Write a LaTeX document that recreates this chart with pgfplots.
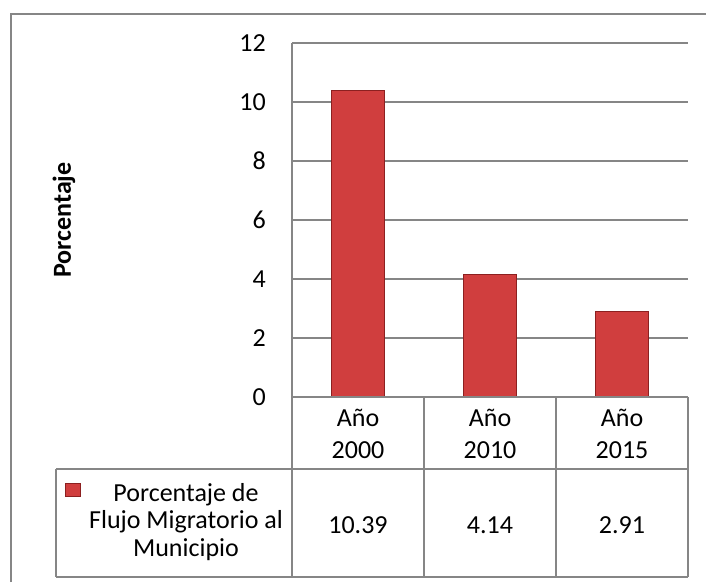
\documentclass[border=0pt]{standalone}
\usepackage{pgfplots}
\pgfplotsset{compat=1.18}
\usepackage{fontspec}
\setmainfont{Carlito}
\definecolor{gridgray}{RGB}{134,134,134}
\definecolor{barmid}{RGB}{208,62,62}
\definecolor{barline}{RGB}{140,32,32}
\begin{document}
\begin{tikzpicture}[x=1pt,y=1pt,font=\fontsize{26}{31}\selectfont]
\path[use as bounding box] (0,0) rectangle (706,-582);
\draw[gridgray, line width=1.5pt] (11,-582) -- (11,-14) -- (706,-14);
\begin{axis}[
  at={(292pt,-397pt)}, anchor=south west,
  scale only axis, width=396pt, height=354pt,
  xmin=-0.5, xmax=2.5, ymin=0, ymax=12,
  ytick={0,2,...,12}, xtick=\empty,
  axis x line=none, axis y line*=left,
  axis line style={gridgray, line width=1.2pt, -},
  ymajorgrids, grid style={gridgray, line width=1.2pt},
  major tick length=0pt,
  tick label style={font=\fontsize{26}{31}\selectfont},
  /pgf/number format/assume math mode=true,
  yticklabel style={anchor=east, inner sep=0pt, xshift=-26pt},
  clip=false,
]
\addplot[ybar, bar width=53pt, draw=barline, line width=1pt, fill=barmid]
  coordinates {(0,10.39) (1,4.14) (2,2.91)};
\end{axis}
% data table
\begin{scope}[gridgray, line width=1.2pt]
\draw (292,-397) -- (688,-397);
\draw (56,-469) -- (688,-469);
\draw (56,-577) -- (688,-577);
\draw (292,-397) -- (292,-577);
\draw (424,-397) -- (424,-577);
\draw (556,-397) -- (556,-577);
\draw (688,-397) -- (688,-577);
\draw (56,-469) -- (56,-577);
\end{scope}
\node[align=center, font=\fontsize{26}{32}\selectfont] at (358,-434) {Año\\2000};
\node[align=center, font=\fontsize{26}{32}\selectfont] at (490,-434) {Año\\2010};
\node[align=center, font=\fontsize{26}{32}\selectfont] at (622,-434) {Año\\2015};
\node at (358,-525) {10.39};
\node at (490,-525) {4.14};
\node at (622,-525) {2.91};
\node[align=center, font=\fontsize{26}{27.5}\selectfont] at (186,-522) {Porcentaje de\\Flujo Migratorio al\\Municipio};
\draw[barline, line width=0.8pt, fill=barmid] (65.5,-483.5) rectangle (80.5,-496);
\node[rotate=90, font=\bfseries\fontsize{26}{31}\selectfont] at (64,-220) {Porcentaje};
\end{tikzpicture}
\end{document}
